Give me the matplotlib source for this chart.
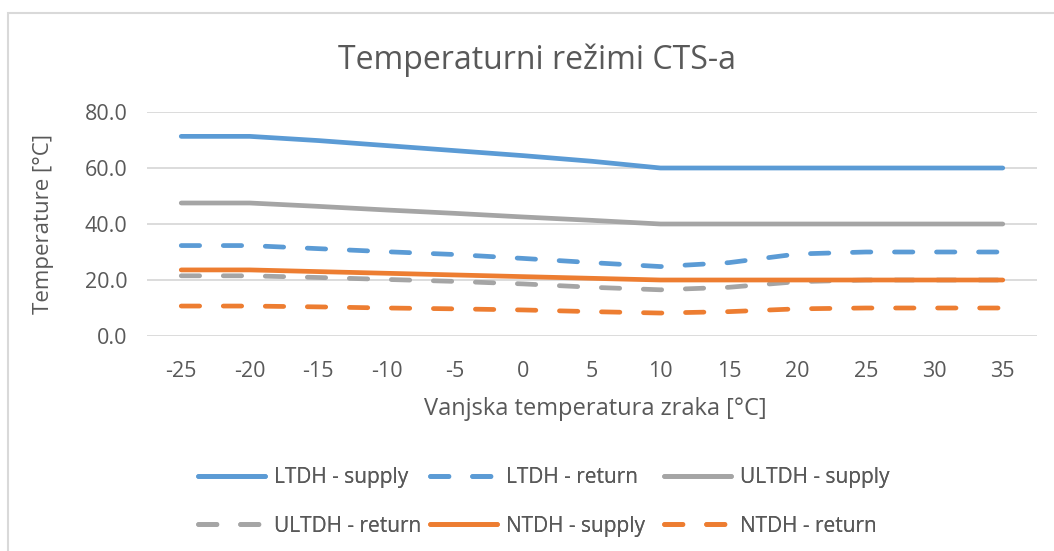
import matplotlib
matplotlib.use("Agg")
import matplotlib.pyplot as plt
from matplotlib.patches import Rectangle

categories = [-25, -20, -15, -10, -5, 0, 5, 10, 15, 20, 25, 30, 35]
ltdh_supply = [71.3, 71.3, 69.8, 68.0, 66.2, 64.4, 62.4, 60.0, 60.0, 60.0, 60.0, 60.0, 60.0]
ltdh_return = [32.3, 32.3, 31.2, 30.1, 29.1, 27.7, 26.2, 24.8, 26.2, 29.3, 30.0, 30.0, 30.0]
ultdh_supply = [47.5, 47.5, 46.3, 45.0, 43.8, 42.5, 41.3, 40.0, 40.0, 40.0, 40.0, 40.0, 40.0]
ultdh_return = [21.5, 21.5, 20.9, 20.2, 19.5, 18.6, 17.4, 16.5, 17.4, 19.4, 20.0, 20.0, 20.0]
ntdh_supply = [23.6, 23.6, 23.0, 22.4, 21.8, 21.2, 20.6, 20.0, 20.0, 20.0, 20.0, 20.0, 20.0]
ntdh_return = [10.7, 10.7, 10.4, 10.0, 9.7, 9.3, 8.7, 8.2, 8.7, 9.7, 10.0, 10.0, 10.0]
yticks = [0, 20, 40, 60, 80]

BLUE = "#5B9BD5"
ORANGE = "#ED7D31"
GRAY = "#A5A5A5"
TXT = "#595959"
GRID = "#D9D9D9"

plt.rcParams["font.family"] = ["Open Sans", "DejaVu Sans"]

W, H = 1054, 551
fig = plt.figure(figsize=(W / 100, H / 100), dpi=100)
fig.patch.set_facecolor("white")

# chart area border (top and left edges visible)
border = Rectangle((8 / W, -0.5), 1.5, 1 - 13 / H + 0.5, transform=fig.transFigure,
                   fill=False, edgecolor=GRID, linewidth=1.5)
fig.add_artist(border)

left, right, top, bottom = 147, 1037, 112, 336
ax = fig.add_axes([left / W, 1 - bottom / H, (right - left) / W, (bottom - top) / H])

x = list(range(len(categories)))
lw = 3.4
dash = (0, (3.9, 5.0))
series = [
    ("LTDH - supply", ltdh_supply, BLUE, "-"),
    ("LTDH - return", ltdh_return, BLUE, dash),
    ("ULTDH - supply", ultdh_supply, GRAY, "-"),
    ("ULTDH - return", ultdh_return, GRAY, dash),
    ("NTDH - supply", ntdh_supply, ORANGE, "-"),
    ("NTDH - return", ntdh_return, ORANGE, dash),
]
handles = []
for label, vals, col, ls in series:
    h, = ax.plot(x, vals, color=col, linestyle=ls, linewidth=lw, label=label,
                 solid_capstyle="round", dash_capstyle="round", solid_joinstyle="round")
    handles.append(h)

ax.set_xlim(-0.5, len(categories) - 0.5)
ax.set_ylim(0, 80)
ax.set_yticks(yticks)
ax.set_yticklabels([f"{v:.1f}" for v in yticks])
ax.set_xticks(x)
ax.set_xticklabels([str(c) for c in categories])
ax.grid(axis="y", color=GRID, linewidth=1.3)
ax.set_axisbelow(True)
for s in ax.spines.values():
    s.set_visible(False)
ax.tick_params(axis="both", length=0, labelsize=15.5, colors=TXT)
ax.tick_params(axis="y", pad=14)
ax.tick_params(axis="x", pad=18)

ax.set_ylabel("Temperature [°C]", fontsize=16, color=TXT, va="center")
ax.yaxis.set_label_coords((44 - left) / (right - left), (bottom - 224) / (bottom - top))
ax.set_xlabel("Vanjska temperatura zraka [°C]", fontsize=17, color=TXT, va="center")
ax.xaxis.set_label_coords((595 - left) / (right - left), (bottom - 409) / (bottom - top))
fig.text(537 / W, 1 - 60 / H, "Temperaturni režimi CTS-a", fontsize=23, color=TXT,
         ha="center", va="center")

# legend: three columns, filled row by row as in the reference
col_x = [198, 430, 664]
fs = 15
for c in range(3):
    leg = fig.legend(handles=[handles[c], handles[c + 3]], loc="center left",
                     bbox_to_anchor=(col_x[c] / W, 1 - 502 / H), ncol=1,
                     frameon=False, fontsize=fs, labelcolor=TXT, handlelength=3.22,
                     handletextpad=0.42, labelspacing=1.32, borderpad=0,
                     borderaxespad=0)
    fig.add_artist(leg)

fig.savefig("out.png", dpi=100, facecolor="white")
